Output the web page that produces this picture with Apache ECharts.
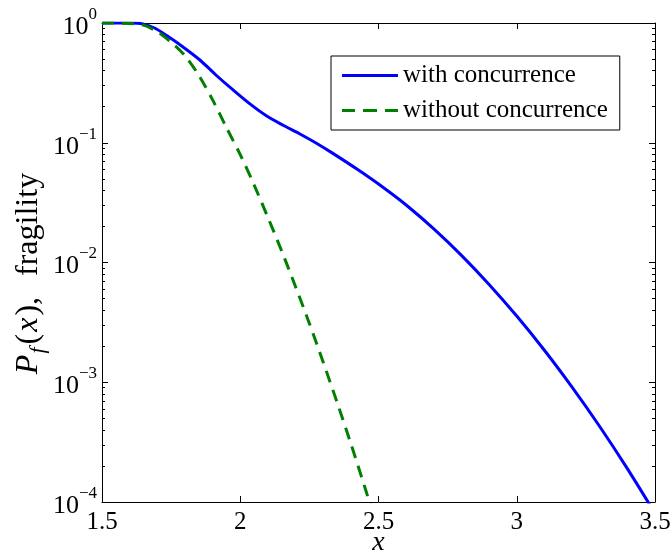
<!DOCTYPE html>
<html>
<head>
<meta charset="utf-8">
<script src="https://cdn.jsdelivr.net/npm/echarts@6/dist/echarts.min.js"></script>
<style>html,body{margin:0;padding:0;background:#fff}#c{width:670px;height:556px}</style>
</head>
<body>
<div id="c"></div>
<script>
// ---- data ----
var withX = [1.5, 1.6, 1.648, 1.69, 1.734, 1.793, 1.854, 1.912, 1.974, 2.035, 2.096, 2.155, 2.216, 2.274, 2.335, 2.426, 2.516, 2.6, 2.7, 2.8, 2.9, 3.0, 3.1, 3.2, 3.3, 3.4, 3.5];
var withY = [1.0, 1.0, 0.982, 0.908, 0.785, 0.631, 0.491, 0.368, 0.276, 0.211, 0.167, 0.14, 0.1183, 0.0995, 0.0815, 0.0594, 0.0425, 0.0302, 0.0191, 0.01148, 0.00656, 0.00357, 0.00185, 0.00091, 0.000427, 0.00019, 0.0000804];
var withoutX = [1.5, 1.6, 1.65, 1.7, 1.75, 1.8, 1.85, 1.9, 1.95, 2.0, 2.05, 2.1, 2.15, 2.2, 2.25, 2.3, 2.35, 2.4, 2.45, 2.5];
var withoutY = [1.0, 0.99, 0.959, 0.845, 0.69, 0.533, 0.366, 0.228, 0.134, 0.0795, 0.0445, 0.0238, 0.01245, 0.00628, 0.0031, 0.00147, 0.000682, 0.000307, 0.000134, 0.0000566];
var seriesNames = ['with concurrence', 'without concurrence'];
var xTicks = [1.5, 2, 2.5, 3, 3.5];
var yMajor = [1e-4, 1e-3, 1e-2, 1e-1, 1];
var yMinor = [];
[1e-4, 1e-3, 1e-2, 1e-1].forEach(function (d) { for (var k = 2; k <= 9; k++) yMinor.push(d * k); });

function zip(a, b) { return a.map(function (v, i) { return [v, b[i]]; }); }

var FONT = 'Liberation Serif';
var chart = echarts.init(document.getElementById('c'), null, { renderer: 'canvas' });

var axisLine = { show: true, lineStyle: { color: '#000', width: 1 } };
var tickMajor = { show: true, inside: true, length: 6, lineStyle: { color: '#000', width: 1 } };
var tickMinor = { show: true, inside: true, length: 3, lineStyle: { color: '#000', width: 1 } };

function supLabel(v) {
  var e = Math.round(Math.log10(v));
  var s = e < 0 ? '\u2212' + Math.abs(e) : String(e);
  return '{b|10}{s|' + s + '}';
}

chart.setOption({
  animation: false,
  backgroundColor: '#fff',
  grid: { left: 102, right: 15, top: 23, bottom: 54, containLabel: false, outerBoundsMode: 'none' },
  legend: {
    orient: 'vertical',
    left: 331, top: 56,
    padding: [7, 12, 7, 11],
    itemGap: 10,
    itemWidth: 56, itemHeight: 3,
    borderColor: '#000', borderWidth: 1,
    backgroundColor: '#fff',
    textStyle: { fontFamily: FONT, fontSize: 25, color: '#000' },
    data: [
      { name: seriesNames[0], icon: 'rect' },
      { name: seriesNames[1], icon: 'path://M0,0h13v3h-13zM21,0h14v3h-14zM43,0h13v3h-13z' }
    ]
  },
  xAxis: [
    {
      type: 'value', position: 'bottom', min: 1.5, max: 3.5, interval: 0.5,
      axisLine: axisLine, axisTick: tickMajor, splitLine: { show: false },
      axisLabel: { margin: 8, fontFamily: FONT, fontSize: 25, color: '#000', customValues: xTicks },
      name: 'x', nameLocation: 'middle', nameGap: 27, nameMoveOverlap: false,
      nameTextStyle: { fontFamily: FONT, fontSize: 28, fontStyle: 'italic', color: '#000' }
    },
    {
      type: 'value', position: 'top', min: 1.5, max: 3.5, interval: 0.5,
      axisLine: axisLine, axisTick: tickMajor, splitLine: { show: false },
      axisLabel: { show: false }
    }
  ],
  yAxis: [
    {
      type: 'log', logBase: 10, position: 'left', min: 1e-4, max: 1,
      axisLine: axisLine, axisTick: tickMajor, splitLine: { show: false },
      axisLabel: {
        margin: 5, color: '#000', fontFamily: FONT, customValues: yMajor,
        formatter: supLabel,
        rich: {
          b: { fontFamily: FONT, fontSize: 26, lineHeight: 34, verticalAlign: 'bottom', color: '#000' },
          s: { fontFamily: FONT, fontSize: 17, lineHeight: 17, verticalAlign: 'top', color: '#000' }
        }
      },
      name: '{i|P}{sub|f}{n|(}{i|x}{n|),}{t|fragility}',
      nameLocation: 'middle', nameGap: 53, nameRotate: 90, nameMoveOverlap: false,
      nameTextStyle: {
        color: '#000',
        rich: {
          i: { fontFamily: FONT, fontSize: 32, fontStyle: 'italic', lineHeight: 36, verticalAlign: 'top', padding: [0, 1, 0, 1] },
          n: { fontFamily: FONT, fontSize: 32, lineHeight: 36, verticalAlign: 'top', padding: [0, 1, 0, 1] },
          t: { fontFamily: FONT, fontSize: 32, lineHeight: 36, verticalAlign: 'top', padding: [0, 23, 0, 20] },
          sub: { fontFamily: FONT, fontSize: 22, fontStyle: 'italic', lineHeight: 22, verticalAlign: 'bottom', padding: [16, 2, 0, 0] }
        }
      }
    },
    {
      type: 'log', logBase: 10, position: 'right', min: 1e-4, max: 1,
      axisLine: axisLine, axisTick: tickMajor, splitLine: { show: false },
      axisLabel: { show: false }
    },
    {
      type: 'log', logBase: 10, position: 'left', min: 1e-4, max: 1,
      axisLine: { show: false }, splitLine: { show: false },
      axisTick: Object.assign({ customValues: yMinor }, tickMinor),
      axisLabel: { show: false }
    },
    {
      type: 'log', logBase: 10, position: 'right', min: 1e-4, max: 1,
      axisLine: { show: false }, splitLine: { show: false },
      axisTick: Object.assign({ customValues: yMinor }, tickMinor),
      axisLabel: { show: false }
    }
  ],
  series: [
    {
      name: seriesNames[0], type: 'line', xAxisIndex: 0, yAxisIndex: 0,
      data: zip(withX, withY), smooth: 0.3, symbol: 'none', clip: true,
      lineStyle: { color: '#0000ff', width: 3 }, itemStyle: { color: '#0000ff' }
    },
    {
      name: seriesNames[1], type: 'line', xAxisIndex: 0, yAxisIndex: 0,
      data: zip(withoutX, withoutY), smooth: 0.3, symbol: 'none', clip: true,
      lineStyle: { color: '#008000', width: 3, type: [12, 8] }, itemStyle: { color: '#008000' }
    }
  ]
});
</script>
</body>
</html>
